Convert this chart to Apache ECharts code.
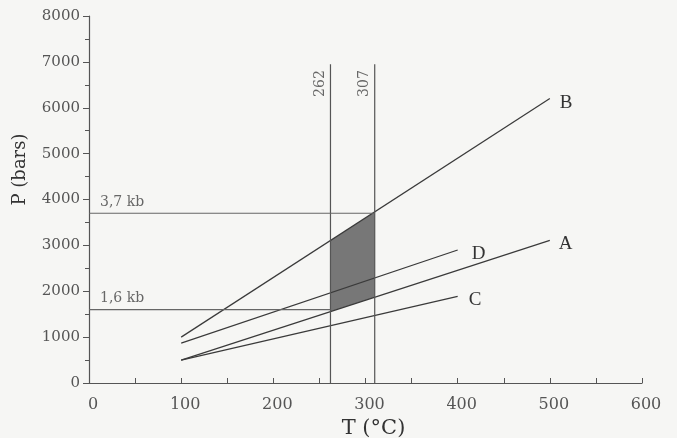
<!DOCTYPE html>
<html><head><meta charset="utf-8">
<script src="https://cdn.jsdelivr.net/npm/echarts@6/dist/echarts.min.js"></script>
<style>html,body{margin:0;padding:0;background:#f6f6f4}#c{width:677px;height:438px}</style>
</head><body><div id="c"></div>
<script>
// ---- data ----
const xMin = 0, xMax = 600, xStep = 100;
const yMin = 0, yMax = 8000, yStep = 1000;
const lineNames = ['B', 'D', 'A', 'C'];
const lineB = [[100, 1000], [500, 6200]];
const lineD = [[100, 870], [400, 2900]];
const lineA = [[100, 500], [500, 3110]];
const lineC = [[100, 500], [400, 1890]];
const boundaryT = [262, 310];
const boundaryLabels = ['262', '307'];
const boundaryTop = 6950;
const pressureLevels = [3700, 1600];
const pressureLabels = ['3,7 kb', '1,6 kb'];

const SERIF = 'Liberation Serif';
const WIDE = 'DejaVu Serif';
const INK = '#3a3a3a';
const lines = [lineB, lineD, lineA, lineC];
const labelDist = [10, 14, 9, 11];

function interp(line, t) {
  const a = line[0], b = line[1];
  return a[1] + (b[1] - a[1]) * (t - a[0]) / (b[0] - a[0]);
}
const shade = [
  [boundaryT[0], interp(lineB, boundaryT[0])],
  [boundaryT[1], interp(lineB, boundaryT[1])],
  [boundaryT[1], interp(lineA, boundaryT[1])],
  [boundaryT[0], interp(lineA, boundaryT[0])]
];

const series = [];
series.push({
  type: 'custom', z: 1, silent: true,
  data: [0],
  renderItem: function (params, api) {
    return {
      type: 'polygon',
      shape: { points: shade.map(p => api.coord(p)) },
      style: { fill: '#777777', stroke: 'none' }
    };
  }
});
lines.forEach((ln, i) => {
  series.push({
    type: 'line', name: lineNames[i], data: ln, showSymbol: false, z: 3,
    lineStyle: { color: INK, width: 1.2 },
    endLabel: { show: true, formatter: lineNames[i], color: '#333', fontFamily: SERIF, fontSize: 19, distance: labelDist[i], offset: [0, 4] }
  });
});
boundaryT.forEach((t, i) => {
  series.push({
    type: 'line', data: [[t, yMin], [t, boundaryTop]], showSymbol: false, z: 3,
    lineStyle: { color: '#555', width: 1.2 }
  });
});
const hEnds = [boundaryT[1], boundaryT[0]];
pressureLevels.forEach((p, i) => {
  series.push({
    type: 'line', data: [[xMin, p], [hEnds[i], p]], showSymbol: false, z: 3,
    lineStyle: { color: '#666', width: 1.2 }
  });
});
// text annotations
series.push({
  type: 'scatter', symbolSize: 1, itemStyle: { color: 'rgba(0,0,0,0)' }, z: 5, silent: true,
  data: pressureLevels.map((p, i) => ({ value: [xMin, p], name: pressureLabels[i] })),
  label: { show: true, position: 'inside', formatter: '{b}', align: 'left', verticalAlign: 'bottom',
    offset: [11, -4], color: '#444', fontFamily: WIDE, fontSize: 14 }
});
series.push({
  type: 'scatter', symbolSize: 1, itemStyle: { color: 'rgba(0,0,0,0)' }, z: 5, silent: true,
  data: boundaryT.map((t, i) => ({ value: [t, boundaryTop], name: boundaryLabels[i] })),
  label: { show: true, position: 'inside', formatter: '{b}', rotate: 90, align: 'right', verticalAlign: 'bottom',
    offset: [-6, -3], color: '#444', fontFamily: WIDE, fontSize: 14 }
});

const chart = echarts.init(document.getElementById('c'), null, { renderer: 'canvas' });
chart.setOption({
  backgroundColor: '#f6f6f4',
  animation: false,
  grid: { left: 89, right: 35, top: 16, bottom: 55, containLabel: false, outerBoundsMode: 'none' },
  xAxis: {
    type: 'value', min: xMin, max: xMax, interval: xStep,
    name: 'T (°C)', nameLocation: 'middle', nameGap: 23,
    nameTextStyle: { fontFamily: WIDE, fontSize: 21, color: '#333', padding: [0, 0, 0, 16] },
    axisLine: { show: true, lineStyle: { color: '#555', width: 1.2 } },
    axisTick: { show: true, inside: true, length: 5, lineStyle: { color: '#555' } },
    minorTick: { show: true, splitNumber: 2, length: 5, lineStyle: { color: '#555' } },
    axisLabel: { fontFamily: WIDE, fontSize: 16, color: '#555', margin: 14, padding: [0, 0, 0, 8], formatter: v => String(v) },
    splitLine: { show: false }
  },
  yAxis: {
    type: 'value', min: yMin, max: yMax, interval: yStep,
    name: 'P (bars)', nameLocation: 'middle', nameGap: 60, nameRotate: 90,
    nameTextStyle: { fontFamily: WIDE, fontSize: 18, color: '#333', padding: [0, 0, 0, 60] },
    axisLine: { show: true, lineStyle: { color: '#555', width: 1.2 } },
    axisTick: { show: true, inside: false, length: 6, lineStyle: { color: '#555' } },
    minorTick: { show: true, splitNumber: 2, length: 4, lineStyle: { color: '#555' } },
    axisLabel: { fontFamily: WIDE, fontSize: 15, color: '#555', margin: 9, formatter: v => String(v) },
    splitLine: { show: false }
  },
  series: series
});
</script>
</body></html>
